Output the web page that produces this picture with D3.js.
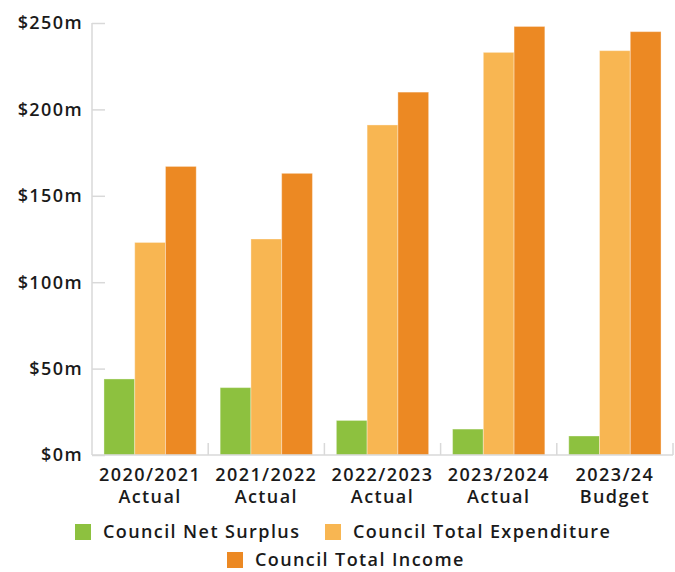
<!DOCTYPE html>
<html>
<head>
<meta charset="utf-8">
<script src="https://cdn.jsdelivr.net/npm/d3@7"></script>
<style>
  body { margin: 0; background: #fff; }
  svg text { font-family: "Open Sans", sans-serif; font-weight: 600; fill: #1a1a1a; letter-spacing: 1.4px; }
</style>
</head>
<body>
<svg id="chart" width="675" height="572"></svg>
<script>
// data
const years = ["2020/2021", "2021/2022", "2022/2023", "2023/2024", "2023/24"];
const yearSub = ["Actual", "Actual", "Actual", "Actual", "Budget"];
const series = ["Council Net Surplus", "Council Total Expenditure", "Council Total Income"];
const netSurplus = [44, 39, 20, 15, 11];
const totalExpenditure = [123, 125, 191, 233, 234];
const totalIncome = [167, 163, 210, 248, 245];
const yTicks = [0, 50, 100, 150, 200, 250];

const colors = ["#8dc13f", "#f8b652", "#ec8923"];
const values = [netSurplus, totalExpenditure, totalIncome];

const svg = d3.select("#chart");
const margin = { top: 23, right: 2, bottom: 117, left: 92 };
const width = 675 - margin.left - margin.right;
const height = 572 - margin.top - margin.bottom;

const g = svg.append("g")
  .attr("transform", `translate(${margin.left},${margin.top})`);

const x = d3.scaleBand()
  .domain(years)
  .range([0, width])
  .paddingInner(0.206)
  .paddingOuter(0.103);

const xOuter = d3.scaleBand().domain(years).range([0, width]);

const sub = d3.scaleBand()
  .domain(series)
  .range([0, x.bandwidth()]);

const y = d3.scaleLinear()
  .domain([0, 250])
  .range([height, 0]);

// y axis
const yAxis = g.append("g")
  .call(d3.axisRight(y).tickValues(yTicks).tickSize(13).tickFormat(""));
yAxis.select(".domain").attr("stroke", "#d9d9d9").attr("stroke-width", 1.5)
  .attr("d", `M0,0V${height}`);
yAxis.selectAll(".tick line").attr("stroke", "#d9d9d9").attr("stroke-width", 1.5);

g.selectAll("text.ylab")
  .data(yTicks)
  .enter()
  .append("text")
  .attr("class", "ylab")
  .attr("x", -9)
  .attr("y", d => y(d))
  .attr("dy", "0.35em")
  .attr("text-anchor", "end")
  .style("font-size", "18px")
  .text(d => `$${d}m`);

// bars
const rows = years.flatMap((yr, i) =>
  series.map((s, j) => ({ year: yr, series: s, value: values[j][i], color: colors[j] }))
);

g.selectAll("rect.bar")
  .data(rows)
  .enter()
  .append("rect")
  .attr("class", "bar")
  .attr("x", d => x(d.year) + sub(d.series))
  .attr("y", d => y(d.value))
  .attr("width", sub.bandwidth())
  .attr("height", d => height - y(d.value))
  .attr("fill", d => d.color)
  .attr("stroke", "#fff")
  .attr("stroke-opacity", 0.35)
  .attr("stroke-width", 1);

// x axis
const xAxis = g.append("g")
  .attr("transform", `translate(0,${height})`);
xAxis.append("line")
  .attr("x1", 0).attr("x2", width)
  .attr("stroke", "#d9d9d9").attr("stroke-width", 1.5);
xAxis.selectAll("line.sep")
  .data(years.slice(1).concat(["end"]))
  .enter()
  .append("line")
  .attr("class", "sep")
  .attr("x1", (d, i) => i < years.length - 1 ? xOuter(d) : width)
  .attr("x2", (d, i) => i < years.length - 1 ? xOuter(d) : width)
  .attr("y1", 0).attr("y2", -12)
  .attr("stroke", "#d9d9d9").attr("stroke-width", 1.5);

const xl = xAxis.selectAll("text.xlab")
  .data(years)
  .enter()
  .append("text")
  .attr("class", "xlab")
  .attr("text-anchor", "middle")
  .attr("x", d => x(d) + x.bandwidth() / 2)
  .style("font-size", "18px");
xl.append("tspan").attr("x", d => x(d) + x.bandwidth() / 2).attr("y", 26).text(d => d);
xl.append("tspan").attr("x", d => x(d) + x.bandwidth() / 2).attr("y", 48).text((d, i) => yearSub[i]);

// legend
const legendItems = [
  { label: series[0], color: colors[0], x: 75, y: 532 },
  { label: series[1], color: colors[1], x: 325, y: 532 },
  { label: series[2], color: colors[2], x: 227, y: 560 }
];
const legend = svg.append("g").attr("class", "legend");
const li = legend.selectAll("g.item")
  .data(legendItems)
  .enter()
  .append("g")
  .attr("class", "item")
  .attr("transform", d => `translate(${d.x},${d.y})`);
li.append("rect")
  .attr("x", 0).attr("y", -8)
  .attr("width", 16).attr("height", 16)
  .attr("fill", d => d.color);
li.append("text")
  .attr("x", 28)
  .attr("dy", "0.35em")
  .style("font-size", "18px")
  .text(d => d.label);
</script>
</body>
</html>
